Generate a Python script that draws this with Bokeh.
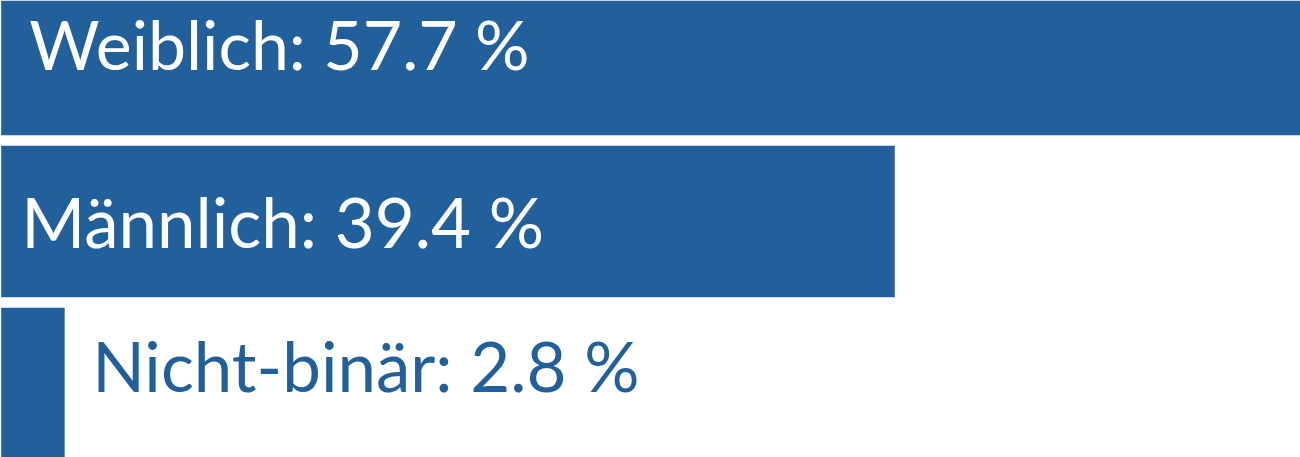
from bokeh.plotting import figure
from bokeh.models import ColumnDataSource, Range1d
from bokeh.embed import file_html
from bokeh.resources import INLINE
from bokeh.core.properties import value

categories = ["Weiblich", "Männlich", "Nicht-binär"]
shares = [57.7, 39.4, 2.8]
labels = [f"{c}: {v} %" for c, v in zip(categories, shares)]

BLUE = "#22609B"
n = len(categories)
ypos = [n - 1 - i for i in range(n)]

p = figure(width=1300, height=457, output_backend="svg", toolbar_location=None,
           x_range=Range1d(-0.03, 57.29), y_range=Range1d(-0.457, 2.364),
           min_border=0)
p.axis.visible = False
p.grid.visible = False
p.outline_line_color = None
p.background_fill_color = "white"
p.border_fill_color = "white"

src = ColumnDataSource(dict(y=ypos, right=shares, label=labels,
                            color=["white", "white", BLUE],
                            xo=[28, 20, 91], yo=[-16, 0, -18],
                            size=["68px", "69px", "69px"]))
p.hbar(y="y", left=0, right="right", height=0.935, source=src,
       fill_color=BLUE, line_color=None)
p.text(x=0, y="y", text="label", source=src, x_offset="xo", y_offset="yo",
       text_color="color", text_font=value("Lato"), text_font_size="size",
       text_baseline="alphabetic", text_align="left")

open("out.html", "w").write(file_html(p, INLINE))
